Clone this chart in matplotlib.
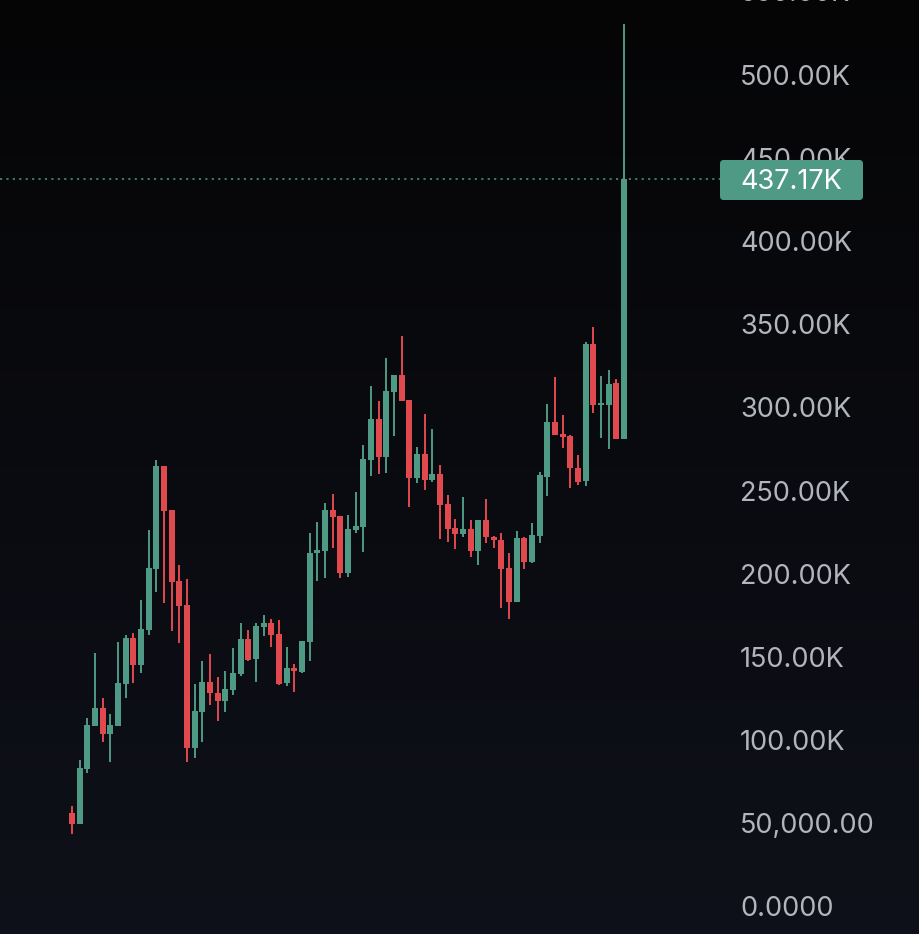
import matplotlib
matplotlib.use("Agg")
import matplotlib.pyplot as plt
import matplotlib.transforms as mtransforms
from matplotlib.patches import FancyBboxPatch
import numpy as np

# ---- data (values in thousands) ----
opens = [56.0, 49.3, 82.2, 108.4, 119.2, 103.4, 108.4, 133.4, 161.1, 144.8,
         165.9, 202.5, 264.4, 238.0, 195.3, 180.9, 95.1, 116.8, 134.6, 127.8,
         123.4, 129.8, 139.3, 160.3, 148.4, 167.9, 170.3, 163.5, 133.8, 143.2,
         140.8, 158.8, 212.0, 213.5, 238.0, 234.4, 200.0, 226.0, 228.0, 268.0,
         292.7, 270.0, 309.1, 319.1, 304.1, 257.0, 271.7, 256.0, 259.6, 241.6,
         227.0, 223.4, 226.6, 213.4, 232.0, 222.0, 220.0, 203.0, 182.9, 221.3,
         206.6, 222.4, 258.0, 291.1, 283.7, 282.5, 263.4, 255.4, 337.8, 301.3,
         301.1, 314.1, 280.5]
highs = [60.1, 87.7, 112.8, 151.9, 125.2, 115.4, 158.8, 162.9, 164.3, 183.9,
         226.0, 268.0, 264.4, 238.0, 204.9, 196.5, 133.4, 147.4, 151.5, 137.6,
         141.4, 154.9, 169.9, 165.9, 169.9, 174.9, 172.5, 171.9, 155.8, 145.4,
         159.3, 224.4, 230.8, 242.4, 247.6, 234.4, 235.0, 248.8, 277.1, 312.5,
         303.5, 329.3, 319.1, 342.6, 304.1, 276.0, 295.7, 286.7, 265.0, 247.0,
         232.6, 246.0, 232.0, 232.0, 244.6, 222.4, 224.0, 212.3, 225.6, 222.0,
         230.4, 261.0, 301.7, 318.1, 295.1, 283.1, 271.1, 339.1, 348.2, 318.5,
         322.1, 316.5, 530.1]
lows = [43.3, 49.3, 79.8, 108.4, 98.6, 86.5, 108.4, 125.2, 134.0, 140.2,
        162.9, 188.9, 181.9, 165.5, 157.9, 86.7, 88.8, 98.7, 120.8, 111.4,
        116.8, 126.8, 138.4, 147.4, 134.8, 162.5, 155.8, 132.8, 132.2, 128.8,
        140.2, 147.4, 195.5, 196.9, 215.3, 196.9, 197.5, 224.0, 212.9, 258.6,
        259.6, 260.4, 282.5, 303.7, 240.0, 254.4, 250.0, 255.0, 220.6, 218.9,
        214.6, 221.6, 209.9, 204.9, 218.0, 215.0, 178.9, 172.3, 182.9, 202.4,
        206.0, 218.0, 246.4, 283.1, 275.1, 251.0, 253.0, 252.6, 296.5, 281.1,
        274.5, 280.5, 280.5]
closes = [49.3, 82.9, 108.8, 119.2, 103.4, 108.8, 134.0, 161.1, 144.8, 166.5,
          203.1, 264.4, 237.6, 194.9, 180.5, 95.1, 117.2, 134.6, 127.8, 123.4,
          130.2, 139.9, 160.3, 147.8, 168.3, 170.3, 162.9, 133.4, 142.9, 141.2,
          159.3, 212.3, 214.0, 238.0, 234.0, 200.0, 226.6, 228.4, 268.6, 292.7,
          270.0, 309.5, 319.1, 303.7, 257.4, 271.7, 256.0, 259.6, 241.0, 226.6,
          223.4, 226.6, 213.4, 232.0, 221.6, 220.0, 202.4, 182.9, 221.0, 206.9,
          223.0, 259.0, 291.1, 283.1, 282.1, 263.1, 255.0, 337.8, 301.1, 302.5,
          313.7, 280.5, 437.17]

tick_values = [550, 500, 450, 400, 350, 300, 250, 200, 150, 100, 50, 0]
tick_labels = ["550.00K", "500.00K", "450.00K", "400.00K", "350.00K", "300.00K",
               "250.00K", "200.00K", "150.00K", "100.00K", "50,000.00", "0.0000"]
last_price = 437.17
last_label = "437.17K"

# ---- style ----
GREEN = "#4e9a85"
RED = "#e04a4f"
TICK_COLOR = "#b2b5bc"
plt.rcParams['font.family'] = ['Inter', 'DejaVu Sans']

W, H = 920, 934
fig = plt.figure(figsize=(W / 100, H / 100), dpi=100)
ax = fig.add_axes([0, 0, 1, 1])

# pixel geometry of the plot
x0_px, step_px = 72.0, 552.0 / 72.0
zero_px, px_per_k = 906.0, 1.664
xmin = -x0_px / step_px
xmax = (W - x0_px) / step_px
ymax = zero_px / px_per_k
ymin = (zero_px - H) / px_per_k
ax.set_xlim(xmin, xmax)
ax.set_ylim(ymin, ymax)
ax.axis("off")

# gradient background
grad = np.linspace(0, 1, 256).reshape(-1, 1)
top = np.array([0x05, 0x05, 0x06]) / 255
bot = np.array([0x0f, 0x11, 0x1a]) / 255
img = top + (bot - top) * grad[..., None]
ax.imshow(img, extent=[xmin, xmax, ymin, ymax], aspect="auto", origin="upper", zorder=0)

# candles
n = len(opens)
xs = np.arange(n)
o = np.array(opens); c = np.array(closes); h = np.array(highs); l = np.array(lows)
colors = [GREEN if cc >= oo else RED for oo, cc in zip(o, c)]
ax.vlines(xs, l, h, colors=colors, linewidth=1.4, zorder=2)
body_bottom = np.minimum(o, c)
body_height = np.maximum(np.abs(c - o), 0.8)
ax.bar(xs, body_height, bottom=body_bottom, width=0.74, color=colors, linewidth=0, zorder=3)

# y tick labels on right (baseline sits ~10.5 px below the tick value)
blend = mtransforms.blended_transform_factory(ax.transAxes, ax.transData)
offset = mtransforms.ScaledTranslation(0, -10.5 / 100, fig.dpi_scale_trans)
text_tr = blend + offset
label_x = 740 / W
for v, t in zip(tick_values, tick_labels):
    ax.text(label_x, v, t, transform=text_tr, ha="left", va="baseline",
            fontsize=19.5, color=TICK_COLOR, zorder=4)

# last price line and label
ax.plot([0, 720 / W], [last_price, last_price], transform=blend, color=GREEN,
        linewidth=1.1, dashes=(1.4, 2.8), zorder=1)
box = FancyBboxPatch((720 / W, 1 - 200 / H), 143 / W, 40 / H,
                     boxstyle="round,pad=0,rounding_size=0.004",
                     transform=ax.transAxes, facecolor=GREEN, edgecolor="none", zorder=5)
ax.add_patch(box)
ax.text(label_x, last_price, last_label, transform=text_tr, ha="left", va="baseline",
        fontsize=19.5, color="white", zorder=6)

fig.savefig("out.png", dpi=100)
